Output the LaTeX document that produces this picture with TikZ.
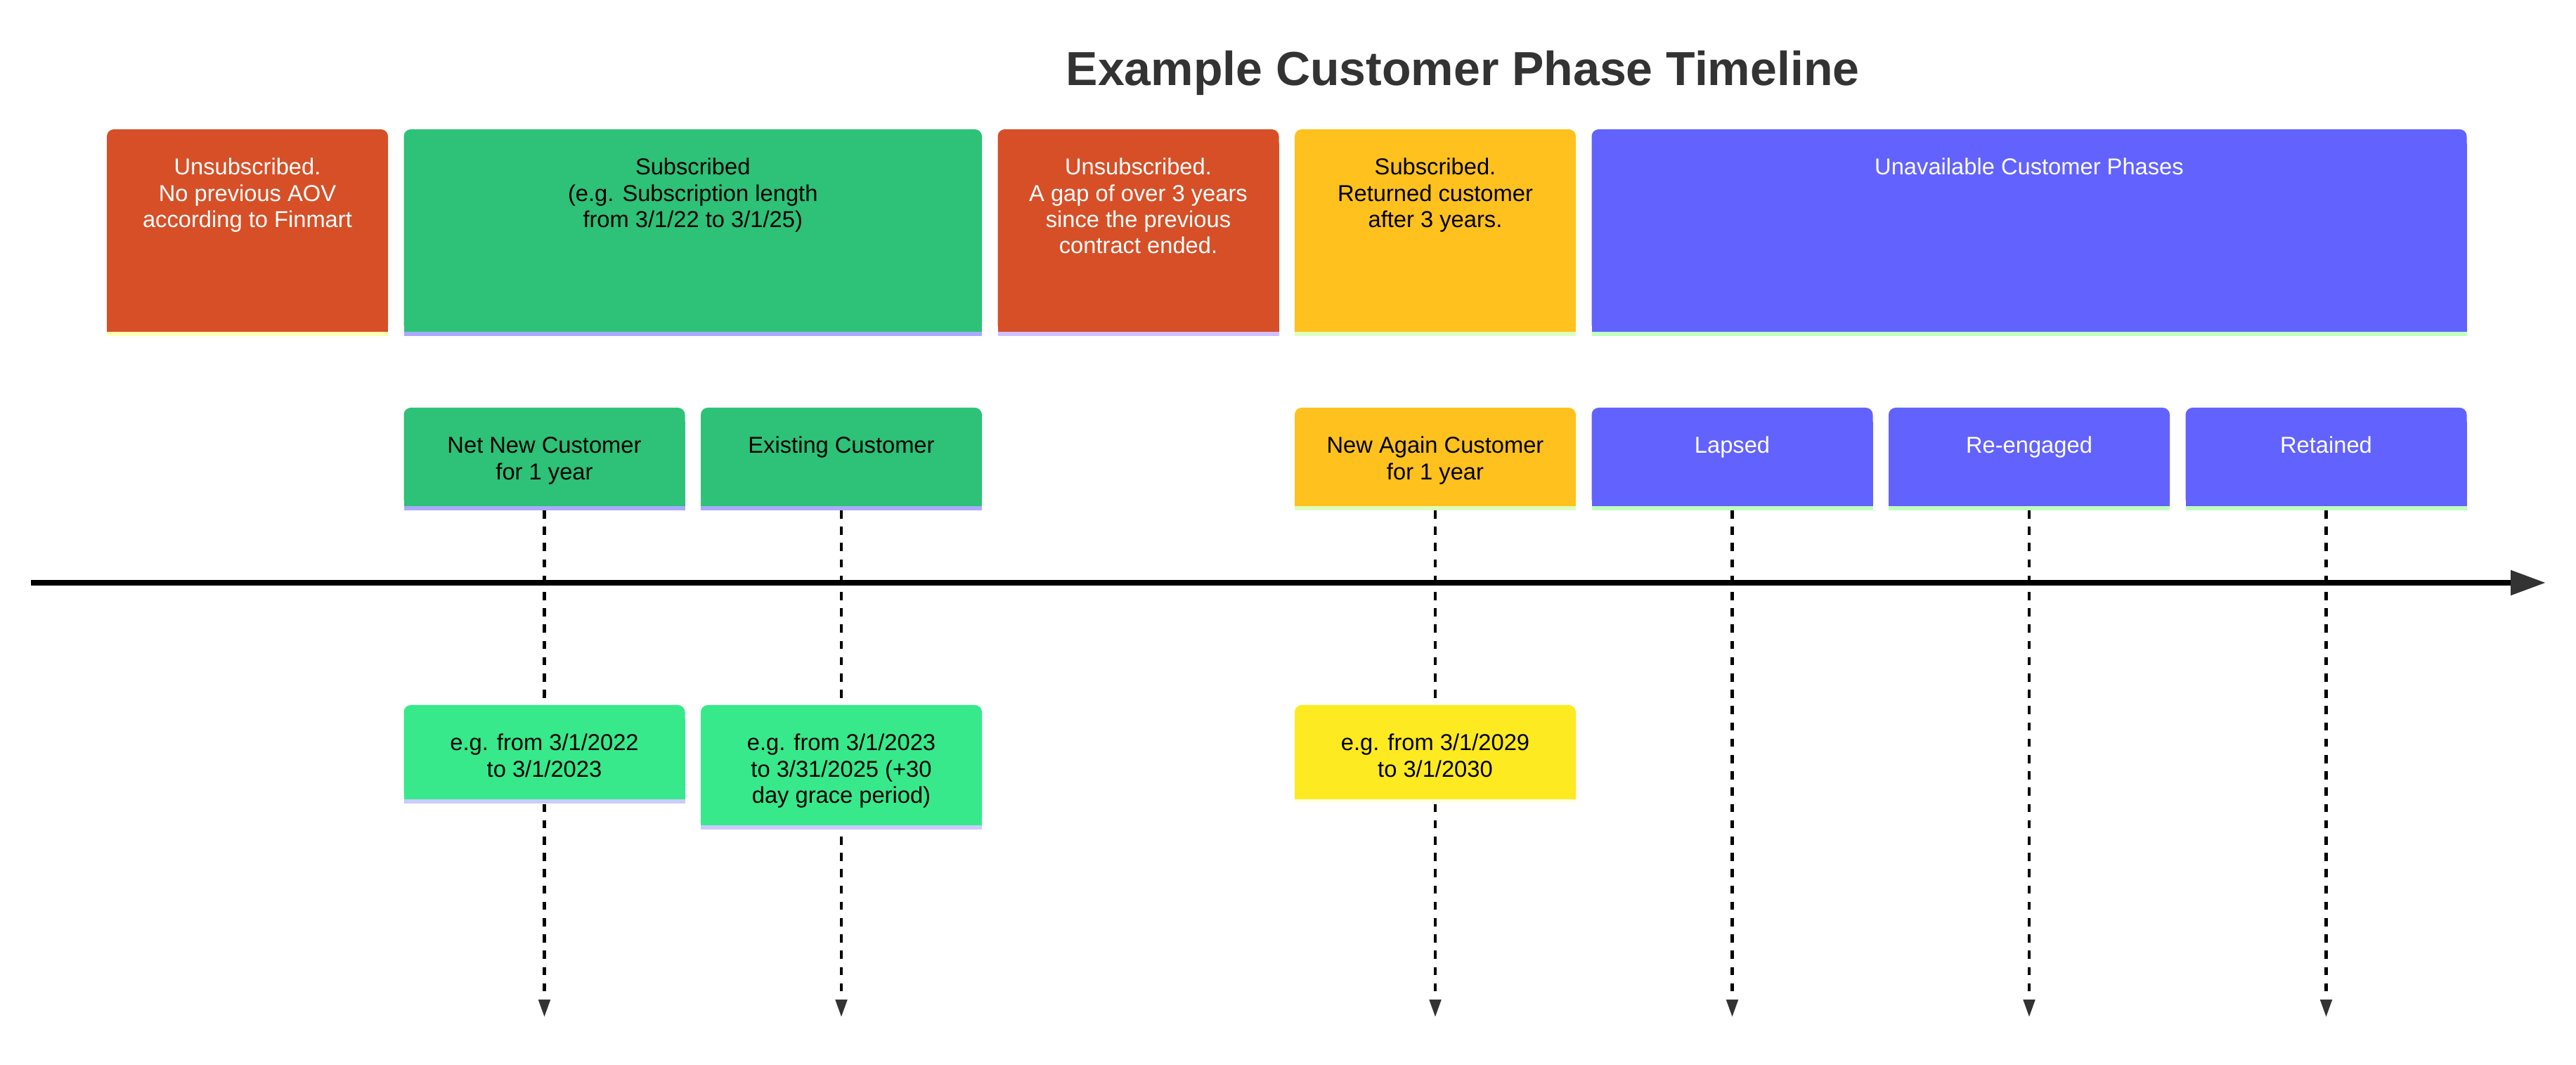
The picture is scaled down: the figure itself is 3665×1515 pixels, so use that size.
\documentclass[tikz,border=0pt]{standalone}
\usepackage{fontspec}
\setmainfont{Liberation Sans}
\usetikzlibrary{arrows.meta}
\pgfdeclarelayer{back}
\pgfdeclarelayer{bg}
\pgfsetlayers{back,bg,main}
\definecolor{cred}{HTML}{D64F27}
\definecolor{cgreen}{HTML}{2DC277}
\definecolor{clgreen}{HTML}{37E98B}
\definecolor{cyellow}{HTML}{FEC11E}
\definecolor{clyellow}{HTML}{FEEA21}
\definecolor{cpurple}{HTML}{6262FF}
\definecolor{sYel}{HTML}{FFFFB4}
\definecolor{sBlue}{HTML}{A9A9FF}
\definecolor{sLil}{HTML}{D1BFFF}
\definecolor{sLime}{HTML}{DCFFBE}
\definecolor{sMint}{HTML}{BFFFBF}
\definecolor{sPale}{HTML}{CBCBFF}
\definecolor{sCream}{HTML}{FFFFE6}
\definecolor{c333}{HTML}{333333}
\tikzset{
  boxshape/.style={rectangle, inner sep=0pt, outer sep=0pt},
  boxtext/.style={inner sep=0pt, align=center, anchor=north, font=\fontsize{8.17pt}{9.35pt}\selectfont},
  dashline/.style={line width=1.17pt, dash pattern=on 2.9pt off 2.9pt, -{Triangle[length=6.25pt,width=4pt,color=c333]}},
  timeline/.style={line width=2pt, -{Triangle[length=12.5pt,width=8.5pt,color=c333]}},
  titletext/.style={inner sep=0pt, anchor=base, text=c333, font=\bfseries\fontsize{17pt}{20pt}\selectfont},
}
% #1 name, #2 left, #3 top, #4 width, #5 fill height, #6 fill, #7 strip, #8 text colour, #9 text
% first text baseline lies 64 px below the top; the 8pt strut puts the node top 32 px above it
\newcommand{\tlbox}[9]{%
  \fill[#6, rounded corners=2.5pt] (#2,-#3) rectangle (#2+#4,-#3-#5);
  \fill[#6] (#2,-#3-20) rectangle (#2+#4,-#3-#5);
  \fill[#7] (#2,-#3-#5) rectangle (#2+#4,-#3-#5-6);
  \node[boxshape, minimum width={#4*0.25pt}, minimum height={(#5+6)*0.25pt}, anchor=north west] (#1) at (#2,-#3) {};
  \node[boxtext, text=#8] (#1-text) at (#2+#4/2,-#3-32) {\rule{0pt}{8pt}#9};
}
\begin{document}
\begin{tikzpicture}[x=0.25pt, y=0.25pt]
\begin{pgfonlayer}{back}
  \fill[white] (0,0) rectangle (3665,-1515);
\end{pgfonlayer}
\useasboundingbox (0,0) rectangle (3665,-1515);

\node[titletext] (title) at (2081,-122) {Example Customer Phase Timeline};

% top row
\tlbox{u1}{152}{184}{400}{288}{cred}{sYel}{white}{Unsubscribed.\\No previous AOV\\according to Finmart}
\tlbox{s1}{574.5}{184}{822.5}{288}{cgreen}{sBlue}{black}{Subscribed\\(e.g. Subscription length\\from 3/1/22 to 3/1/25)}
\tlbox{u2}{1419.5}{184}{400}{288}{cred}{sLil}{white}{Unsubscribed.\\A gap of over 3 years\\since the previous\\contract ended.}
\tlbox{s2}{1842}{184}{400}{288}{cyellow}{sLime}{black}{Subscribed.\\Returned customer\\after 3 years.}
\tlbox{un}{2264.5}{184}{1245}{288}{cpurple}{sMint}{white}{Unavailable Customer Phases}

% second row
\tlbox{nn}{574.5}{580}{400}{140}{cgreen}{sBlue}{black}{Net New Customer\\for 1 year}
\tlbox{ex}{997}{580}{400}{140}{cgreen}{sBlue}{black}{Existing Customer}
\tlbox{na}{1842}{580}{400}{140}{cyellow}{sLime}{black}{New Again Customer\\for 1 year}
\tlbox{la}{2264.5}{580}{400}{140}{cpurple}{sMint}{white}{Lapsed}
\tlbox{re}{2687}{580}{400}{140}{cpurple}{sMint}{white}{Re-engaged}
\tlbox{rt}{3109.5}{580}{400}{140}{cpurple}{sMint}{white}{Retained}

% detail row
\tlbox{nnd}{574.5}{1003}{400}{134}{clgreen}{sPale}{black}{e.g. from 3/1/2022\\to 3/1/2023}
\tlbox{exd}{997}{1003}{400}{171}{clgreen}{sPale}{black}{e.g. from 3/1/2023\\to 3/31/2025 (+30\\day grace period)}
\tlbox{nad}{1842}{1003}{400}{134}{clyellow}{sCream}{black}{e.g. from 3/1/2029\\to 3/1/2030}

% end points of the dashed connectors
\coordinate (nn-end) at (774.5,-1447);
\coordinate (ex-end) at (1197,-1447);
\coordinate (na-end) at (2042,-1447);
\coordinate (la-end) at (2464.5,-1447);
\coordinate (re-end) at (2887,-1447);
\coordinate (rt-end) at (3309.5,-1447);

\begin{pgfonlayer}{bg}
  \draw[dashline] (nn.south) -- (nn-end);
  \draw[dashline] (ex.south) -- (ex-end);
  \draw[dashline] (na.south) -- (na-end);
  \draw[dashline] (la.south) -- (la-end);
  \draw[dashline] (re.south) -- (re-end);
  \draw[dashline] (rt.south) -- (rt-end);
\end{pgfonlayer}

% main time axis
\coordinate (tl-start) at (44,-829);
\coordinate (tl-end) at (3622,-829);
\draw[timeline] (tl-start) -- (tl-end);
\end{tikzpicture}
\end{document}
